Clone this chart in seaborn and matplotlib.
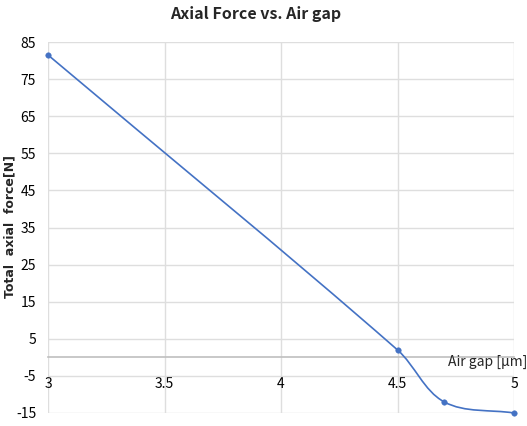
import matplotlib
matplotlib.use("Agg")
import matplotlib.pyplot as plt
from matplotlib.path import Path
from matplotlib.patches import PathPatch
import numpy as np
import pandas as pd
import seaborn as sns

# data
air_gap = [3.0, 4.5, 4.7, 5.0]          # um
axial_force = [81.5, 2.0, -12.0, -15.0]  # N
x_ticks = [3, 3.5, 4, 4.5, 5]
y_ticks = [85, 75, 65, 55, 45, 35, 25, 15, 5, -5, -15]

LINE = "#4472C4"

sns.set_style("white")
plt.rcParams["font.family"] = ["Noto Sans CJK KR", "DejaVu Sans"]

df = pd.DataFrame({"gap": air_gap, "force": axial_force})

fig = plt.figure(figsize=(5.27, 4.26), dpi=100)
ax = fig.add_axes([48 / 527, 13 / 426, 466 / 527, 371 / 426])
ax.set_xlim(3, 5)
ax.set_ylim(-15, 85)


def smooth_path(ax, xs, ys):
    # spreadsheet style smoothing: bezier with control points built in pixel space
    p = ax.transData.transform(np.column_stack([xs, ys]))
    n = len(p)
    tang = []
    for i in range(n):
        d = p[min(i + 1, n - 1)] - p[max(i - 1, 0)]
        tang.append(d / np.hypot(*d))
    verts = [p[0]]
    codes = [Path.MOVETO]
    for i in range(n - 1):
        L = np.hypot(*(p[i + 1] - p[i])) / 3
        verts += [p[i] + tang[i] * L, p[i + 1] - tang[i + 1] * L, p[i + 1]]
        codes += [Path.CURVE4] * 3
    verts = ax.transData.inverted().transform(np.array(verts))
    return Path(verts, codes)


ax.add_patch(PathPatch(smooth_path(ax, air_gap, axial_force), facecolor="none",
                       edgecolor=LINE, lw=1.2, zorder=3, clip_on=False))

sns.scatterplot(data=df, x="gap", y="force", ax=ax, color=LINE, s=16,
                edgecolor=LINE, zorder=4, clip_on=False, legend=False)

ax.set_xlim(3, 5)
ax.set_ylim(-15, 85)
ax.set_xticks(x_ticks)
ax.set_xticklabels([f"{t:g}" for t in x_ticks])
ax.set_yticks(y_ticks)
ax.set_yticklabels([str(t) for t in y_ticks])
ax.grid(True, color="#dedede", lw=1)
ax.set_axisbelow(True)

for s in ["top", "right", "left"]:
    ax.spines[s].set_visible(False)
ax.spines["bottom"].set_position(("data", 0))
ax.spines["bottom"].set_color("#bfbfbf")
ax.spines["bottom"].set_linewidth(1.2)

ax.tick_params(axis="x", length=0, pad=14, labelsize=10, labelcolor="black")
ax.tick_params(axis="y", length=0, pad=8.5, labelsize=10, labelcolor="black")
ax.set_xlabel("")
ax.set_ylabel("")

fig.text(256 / 527, 1 - 14 / 426, "Axial Force vs. Air gap", ha="center",
         va="center", fontsize=11.5, fontweight="bold")
fig.text(10 / 527, 1 - 227 / 426, "Total  axial  force[N]", rotation=90,
         ha="center", va="center", fontsize=9, fontweight="bold",
         family=["DejaVu Sans"])
fig.text(527 / 527, 1 - 362 / 426, "Air gap [\u03bcm]", ha="right",
         va="center", fontsize=10)

fig.savefig("out.png", dpi=100)
